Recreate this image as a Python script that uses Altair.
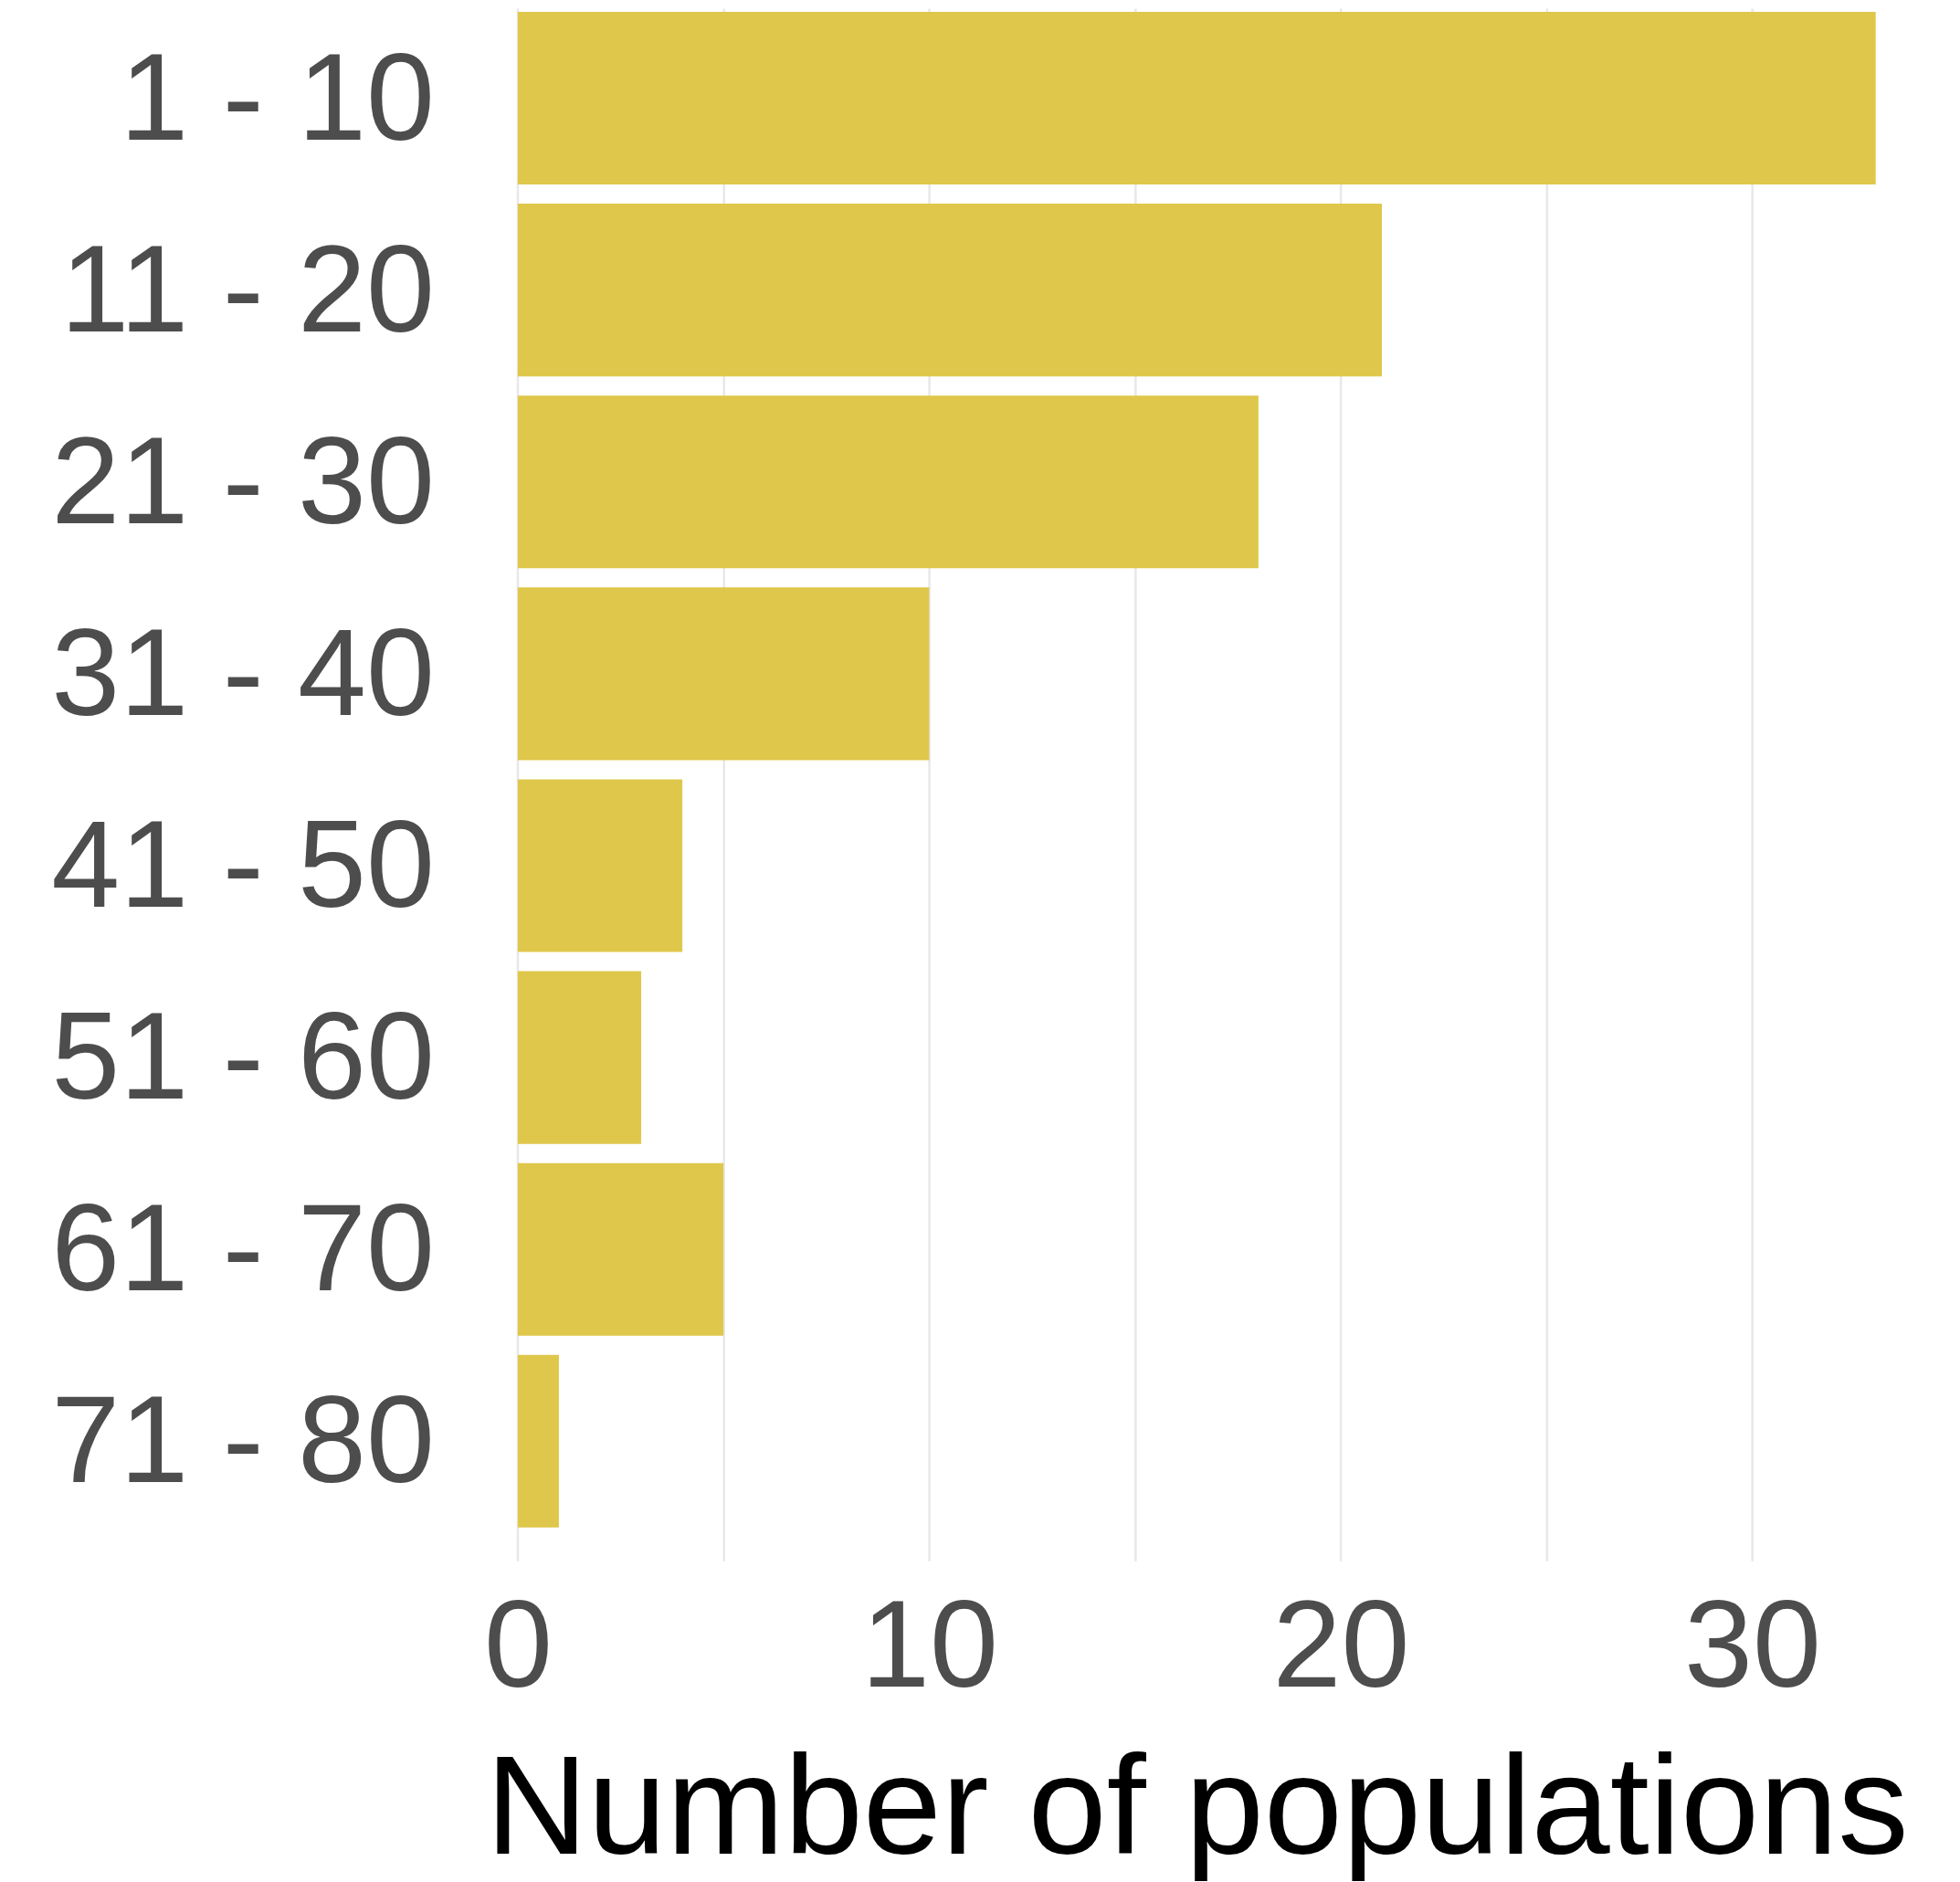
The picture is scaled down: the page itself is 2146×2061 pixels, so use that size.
import altair as alt
import pandas as pd

categories = ["1 - 10", "11 - 20", "21 - 30", "31 - 40", "41 - 50", "51 - 60", "61 - 70", "71 - 80"]
counts = [33, 21, 18, 10, 4, 3, 5, 1]
grid_values = [0, 5, 10, 15, 20, 25, 30]

df = pd.DataFrame({"range": categories, "count": counts})

FONT = "Liberation Sans"

chart = alt.Chart(df).mark_bar(color="#DFC74B").encode(
    x=alt.X(
        "count:Q",
        scale=alt.Scale(domain=[-1.65, 34.65], nice=False, zero=False),
        axis=alt.Axis(
            title="Number of populations",
            values=grid_values,
            labelExpr="datum.value % 10 === 0 ? datum.label : ''",
            grid=True,
            gridColor="#E8E8E8",
            gridWidth=2.5,
            domain=False,
            ticks=False,
            tickSize=0,
            labelPadding=30,
            labelFont=FONT,
            labelFontSize=135,
            labelColor="#4D4D4D",
            labelFlush=False,
            labelOverlap=False,
            labelLimit=0,
            titleFont=FONT,
            titleFontSize=155,
            titleFontWeight="normal",
            titleColor="#000000",
            titleY=320,
            titleBaseline="alphabetic",
            titleLimit=0,
        ),
    ),
    x2=alt.datum(0),
    y=alt.Y(
        "range:N",
        sort=categories,
        scale=alt.Scale(paddingInner=0.1, paddingOuter=0.0966, align=0.1),
        axis=alt.Axis(
            title=None,
            grid=False,
            domain=False,
            ticks=False,
            tickSize=0,
            labelPadding=17,
            labelOffset=4,
            labelFont=FONT,
            labelFontSize=135,
            labelColor="#4D4D4D",
            labelBaseline="middle",
            labelLimit=0,
        ),
    ),
).properties(
    width=1637,
    height=1702,
    autosize=alt.AutoSizeParams(type="none"),
    padding={"left": 485, "top": 0, "right": 10, "bottom": 350},
).configure_view(stroke=None)

chart.save("out.html", embed_options={"renderer": "svg", "actions": False})
